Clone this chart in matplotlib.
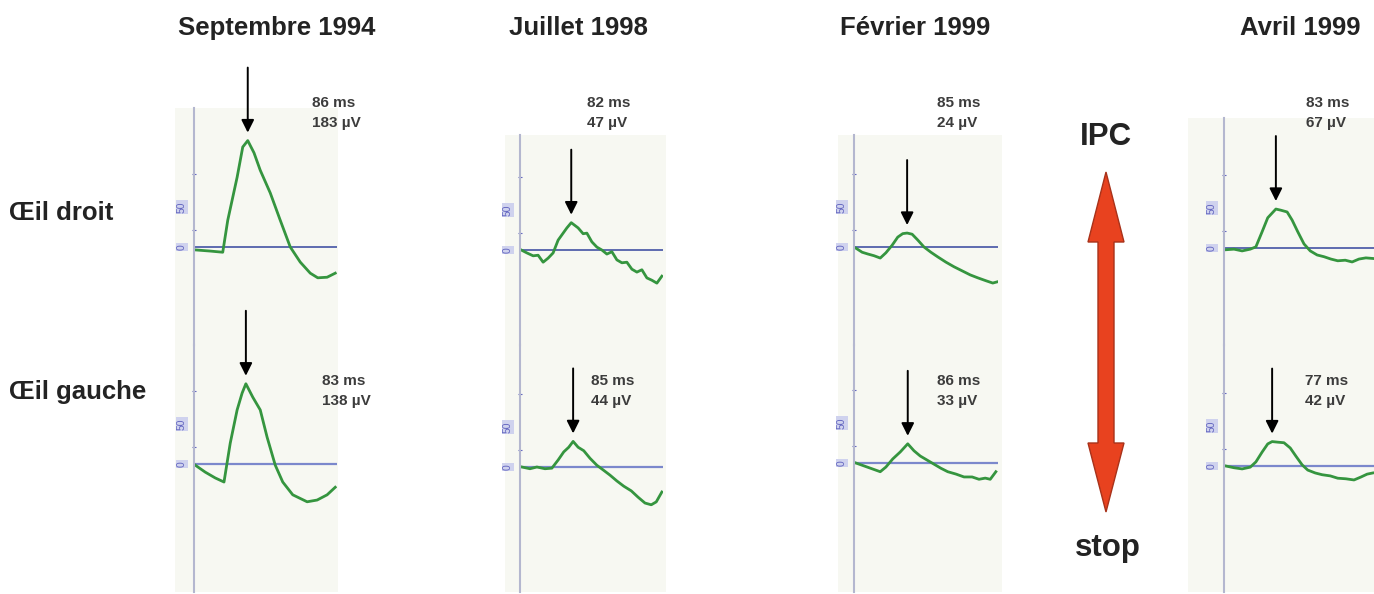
import matplotlib.pyplot as plt
from matplotlib.patches import Polygon, Rectangle

plt.rcParams["font.family"] = ["Liberation Sans", "DejaVu Sans"]

W, H = 1374, 594
MS_PER_PX = 1.6
UV_PER_PX = 1.72

GREEN = "#35953f"
PANEL_BG = "#f7f8f2"
AXIS_GREY = "#b4b7cf"
TICK_BLUE = "#6366c0"
TEXT_DARK = "#232323"
VALUE_GREY = "#3c3c3c"
ARROW_RED = "#e8421f"

DATES = ["Septembre 1994", "Juillet 1998", "Février 1999", "Avril 1999"]
EYES = ["Œil droit", "Œil gauche"]

# peak latency (ms) and amplitude (µV), right eye then left eye
PEAK_MS_DROIT = [86, 82, 85, 83]
PEAK_UV_DROIT = [183, 47, 24, 67]
PEAK_MS_GAUCHE = [83, 85, 86, 77]
PEAK_UV_GAUCHE = [138, 44, 33, 42]

# traces: time (ms) / amplitude (µV)
sep94_droit_t = [2, 26, 46, 54, 69, 78, 86, 96, 106, 122, 138, 154, 170, 186, 198, 213, 226]
sep94_droit_uv = [-5, -7, -9, 46, 120, 172, 183, 162, 132, 93, 46, 0, -26, -45, -53, -52, -45]
sep94_gauche_t = [2, 18, 34, 48, 58, 69, 77, 83, 94, 106, 117, 130, 142, 158, 181, 197, 213, 226]
sep94_gauche_uv = [-2, -14, -24, -31, 36, 93, 122, 138, 115, 93, 46, -2, -31, -53, -65, -62, -53, -40]

jul98_droit_t = [2, 11, 21, 29, 37, 45, 53, 61, 69, 75, 82, 93, 101, 107, 115, 123, 131, 139,
                 147, 155, 163, 171, 179, 187, 195, 203, 211, 219, 227]
jul98_droit_uv = [0, -5, -10, -9, -21, -14, -5, 17, 29, 38, 47, 38, 28, 29, 14, 5, 0, -7,
                  -3, -17, -22, -21, -33, -38, -34, -48, -52, -57, -45]
jul98_gauche_t = [3, 16, 27, 40, 51, 61, 70, 78, 85, 93, 102, 112, 123, 133, 144, 155, 166, 178,
                  189, 200, 210, 218, 227]
jul98_gauche_uv = [0, -3, 0, -3, -2, 12, 26, 34, 44, 34, 28, 15, 3, -5, -14, -24, -33, -41,
                   -52, -62, -65, -60, -43]

fev99_droit_t = [3, 13, 22, 32, 42, 51, 61, 70, 78, 85, 93, 102, 112, 123, 134, 147, 160, 173,
                 186, 198, 211, 222, 229]
fev99_droit_uv = [-2, -9, -12, -15, -19, -10, 3, 17, 23, 24, 22, 12, 0, -9, -17, -26, -34, -41,
                  -48, -53, -58, -62, -60]
fev99_gauche_t = [3, 16, 29, 42, 51, 62, 74, 86, 96, 106, 117, 128, 139, 150, 163, 176, 189,
                  200, 210, 218, 227]
fev99_gauche_uv = [0, -5, -10, -15, -7, 7, 19, 33, 21, 12, 5, -2, -9, -15, -19, -24, -24,
                   -28, -26, -28, -15]

avr99_droit_t = [3, 16, 29, 42, 51, 61, 70, 83, 91, 101, 109, 118, 128, 138, 149, 160, 171,
                 182, 194, 205, 216, 227, 238]
avr99_droit_uv = [-3, -2, -5, -2, 2, 28, 52, 67, 65, 62, 48, 28, 7, -5, -12, -15, -19,
                  -22, -21, -24, -19, -17, -18]
avr99_gauche_t = [3, 16, 29, 42, 51, 61, 70, 77, 86, 96, 106, 115, 125, 134, 146, 157, 170,
                  182, 195, 208, 219, 229, 238]
avr99_gauche_uv = [0, -3, -5, -2, 7, 24, 38, 42, 41, 40, 31, 17, 2, -7, -12, -15, -17,
                   -21, -22, -24, -19, -14, -12]

TRACES = [
    [(sep94_droit_t, sep94_droit_uv), (jul98_droit_t, jul98_droit_uv),
     (fev99_droit_t, fev99_droit_uv), (avr99_droit_t, avr99_droit_uv)],
    [(sep94_gauche_t, sep94_gauche_uv), (jul98_gauche_t, jul98_gauche_uv),
     (fev99_gauche_t, fev99_gauche_uv), (avr99_gauche_t, avr99_gauche_uv)],
]
PEAKS = [
    (PEAK_MS_DROIT, PEAK_UV_DROIT),
    (PEAK_MS_GAUCHE, PEAK_UV_GAUCHE),
]

# layout in pixels (y down)
AXIS_X = [194, 520, 854, 1224]
X_MAX_MS = [228, 228, 230, 240]
PANEL_TOP = [108, 135, 135, 118]
PANEL_BOTTOM = 592
BG_SPAN = [(175, 338), (505, 666), (838, 1002), (1188, 1374)]
BASELINE = [[247, 250, 247, 248], [464, 467, 463, 466]]
ROW_SPAN = [(100, 345), (345, 594)]
BASE_COLOR = ["#34449e", "#7b88cc"]
BASE_LW = [1.1, 1.6]
VALUE_X = [[312, 587, 937, 1306], [322, 591, 937, 1305]]
VALUE_Y = [103, 381]
TITLE_X = [277, 578, 915, 1300]
ROW_LABEL_Y = [213, 392]

fig = plt.figure(figsize=(W / 100, H / 100), dpi=100)

bg = fig.add_axes([0, 0, 1, 1], zorder=0)
bg.set_xlim(0, W)
bg.set_ylim(H, 0)
bg.axis("off")

over = fig.add_axes([0, 0, 1, 1], zorder=5)
over.set_xlim(0, W)
over.set_ylim(H, 0)
over.axis("off")
over.patch.set_visible(False)

for (x0, x1), top in zip(BG_SPAN, PANEL_TOP):
    bg.add_patch(Rectangle((x0, top), x1 - x0, PANEL_BOTTOM - top, facecolor=PANEL_BG, edgecolor="none"))


def px_axes(x0, y0, x1, y1):
    return fig.add_axes([x0 / W, 1 - y1 / H, (x1 - x0) / W, (y1 - y0) / H], zorder=2)


for r in range(2):
    y0, y1 = ROW_SPAN[r]
    for c in range(4):
        base = BASELINE[r][c]
        x0 = AXIS_X[c]
        ax = px_axes(x0, y0, x0 + X_MAX_MS[c] / MS_PER_PX, y1)
        ax.set_xlim(0, X_MAX_MS[c])
        lo, hi = (base - y1) * UV_PER_PX, (base - y0) * UV_PER_PX
        ax.set_ylim(lo, hi)
        ax.patch.set_visible(False)
        for side in ["top", "right", "bottom"]:
            ax.spines[side].set_visible(False)
        ax.spines["left"].set_color(AXIS_GREY)
        ax.spines["left"].set_linewidth(1.5)
        if r == 0:
            ax.spines["left"].set_bounds(lo, (base - PANEL_TOP[c]) * UV_PER_PX)
        else:
            ax.spines["left"].set_bounds((base - PANEL_BOTTOM) * UV_PER_PX, hi)
        ax.set_xticks([])
        ax.set_yticks([0, 69], labels=["0", "50"])
        ax.set_yticks([30, 125], minor=True)
        ax.tick_params(axis="y", which="major", length=0, pad=5, labelsize=7.5,
                       labelcolor=TICK_BLUE, labelrotation=90)
        ax.tick_params(axis="y", which="minor", length=3, width=0.8, color=TICK_BLUE, direction="inout")
        for lab in ax.get_yticklabels():
            lab.set_bbox(dict(facecolor="#cfd2ee", edgecolor="none", pad=0.8))
            lab.set_va("center")

        ax.axhline(0, color=BASE_COLOR[r], lw=BASE_LW[r], zorder=1)
        t, uv = TRACES[r][c]
        ax.plot(t, uv, color=GREEN, lw=2, zorder=2, solid_joinstyle="round")

        pk_ms, pk_uv = PEAKS[r][0][c], PEAKS[r][1][c]
        ax.annotate("", xy=(pk_ms, pk_uv), xytext=(0, 73 * 0.72), textcoords="offset points",
                    arrowprops=dict(arrowstyle="-|>", color="black", lw=1.4, mutation_scale=19,
                                    shrinkA=0, shrinkB=8 * 0.72))
        over.text(VALUE_X[r][c], VALUE_Y[r], f"{pk_ms} ms", fontsize=11, weight="bold",
                  color=VALUE_GREY, ha="left", va="center")
        over.text(VALUE_X[r][c], VALUE_Y[r] + 20, f"{pk_uv} µV", fontsize=11, weight="bold",
                  color=VALUE_GREY, ha="left", va="center")

for x, date in zip(TITLE_X, DATES):
    over.text(x, 28, date, fontsize=18.5, weight="bold", color=TEXT_DARK, ha="center", va="center")

for y, eye in zip(ROW_LABEL_Y, EYES):
    over.text(9, y, eye, fontsize=18.5, weight="bold", color=TEXT_DARK, ha="left", va="center")

# treatment arrow between Février and Avril
cx = 1106
arrow = [(cx, 172), (cx + 18, 242), (cx + 8, 242), (cx + 8, 443), (cx + 18, 443), (cx, 512),
         (cx - 18, 443), (cx - 8, 443), (cx - 8, 242), (cx - 18, 242)]
over.add_patch(Polygon(arrow, closed=True, facecolor=ARROW_RED, edgecolor="#a8321a", lw=1.0))
over.text(cx, 137, "IPC", fontsize=22.5, weight="bold", color=TEXT_DARK, ha="center", va="center")
over.text(cx + 2, 548, "stop", fontsize=22.5, weight="bold", color=TEXT_DARK, ha="center", va="center")

fig.savefig("out.png", dpi=100)
plt.close(fig)
